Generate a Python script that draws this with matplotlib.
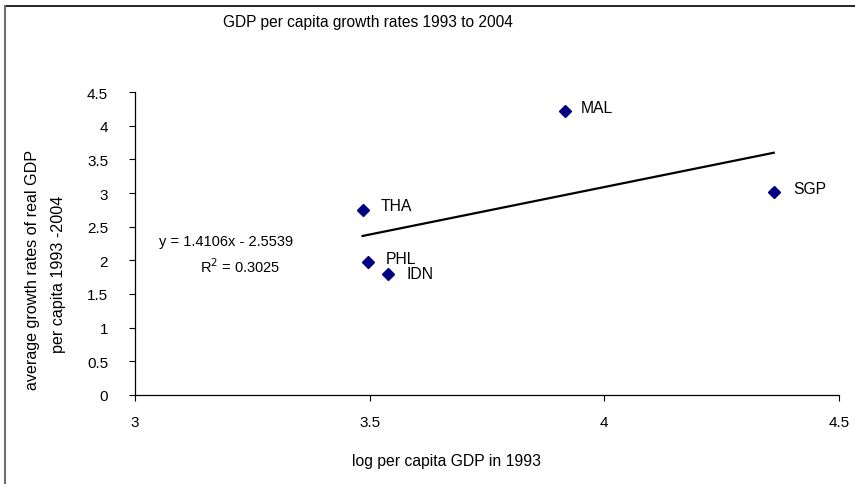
import matplotlib
matplotlib.use("Agg")
import matplotlib.pyplot as plt
from matplotlib.lines import Line2D
import numpy as np

plt.rcParams['font.family'] = ['Liberation Sans', 'DejaVu Sans']

# data
countries = ["THA", "PHL", "IDN", "MAL", "SGP"]
log_gdp_1993 = [3.485, 3.497, 3.540, 3.916, 4.361]
growth_rate = [2.75, 1.98, 1.80, 4.22, 3.02]
slope, intercept = 1.4106, -2.5539
r_squared = 0.3025

# label offsets in pixels (dx, dy)
label_offsets = {"THA": (18, 4), "PHL": (17, 3), "IDN": (18, 0), "MAL": (16, 3), "SGP": (19, 3)}

fig = plt.figure(figsize=(8.55, 4.85), dpi=100)
ax = fig.add_axes([135/855, 1 - 396/485, (839-135)/855, (396-93)/485])

ax.plot(log_gdp_1993, growth_rate, linestyle='none', marker='D', ms=6,
        color='#000080', zorder=3)

# trend line over the data range
xs = np.array([min(log_gdp_1993), max(log_gdp_1993)])
ax.plot(xs, slope * xs + intercept, color='black', lw=1.6, zorder=2)

for name, x, y in zip(countries, log_gdp_1993, growth_rate):
    dx, dy = label_offsets[name]
    ax.annotate(name, (x, y), xytext=(dx * 0.72, dy * 0.72), textcoords='offset points',
                fontsize=11.3, ha='left', va='center')

ax.set_xlim(3, 4.5)
ax.set_ylim(0, 4.5)
ax.set_xticks([3, 3.5, 4, 4.5])
ax.set_yticks(np.arange(0, 4.51, 0.5))
ax.set_xticklabels(["3", "3.5", "4", "4.5"])
ax.set_yticklabels(["%g" % v for v in np.arange(0, 4.51, 0.5)])
ax.tick_params(direction='out', length=4.3, width=0.8, labelsize=11)
ax.tick_params(axis='x', pad=10)
ax.tick_params(axis='y', pad=15)
for side in ['top', 'right']:
    ax.spines[side].set_visible(False)
for side in ['left', 'bottom']:
    ax.spines[side].set_linewidth(0.9)

# equation text
fig.text(159/855, 1 - 242/485, "y = 1.4106x - 2.5539", fontsize=10.5, va='center', ha='left')
fig.text(200/855, 1 - 267/485, "R$^2$ = %.4f" % r_squared, fontsize=10.5, va='center', ha='left')

fig.text(223/855, 1 - 23/485, "GDP per capita growth rates 1993 to 2004", fontsize=11.2,
         va='center', ha='left')
fig.text(446/855, 1 - 462/485, "log per capita GDP in 1993", fontsize=11.3,
         va='center', ha='center')
fig.text(32/855, 1 - 270/485, "average growth rates of real GDP", fontsize=11.6,
         rotation=90, va='center', ha='center')
fig.text(59/855, 1 - 274/485, "per capita 1993 -2004", fontsize=11.6,
         rotation=90, va='center', ha='center')

# chart-area border (top and left visible)
fig.add_artist(Line2D([5/855, 1], [1 - 6.5/485, 1 - 6.5/485], color='black', lw=1.2,
                      transform=fig.transFigure))
fig.add_artist(Line2D([4.5/855, 4.5/855], [0, 1 - 6.5/485], color='#707070', lw=1.5,
                      transform=fig.transFigure))

fig.savefig("out.png", dpi=100)
